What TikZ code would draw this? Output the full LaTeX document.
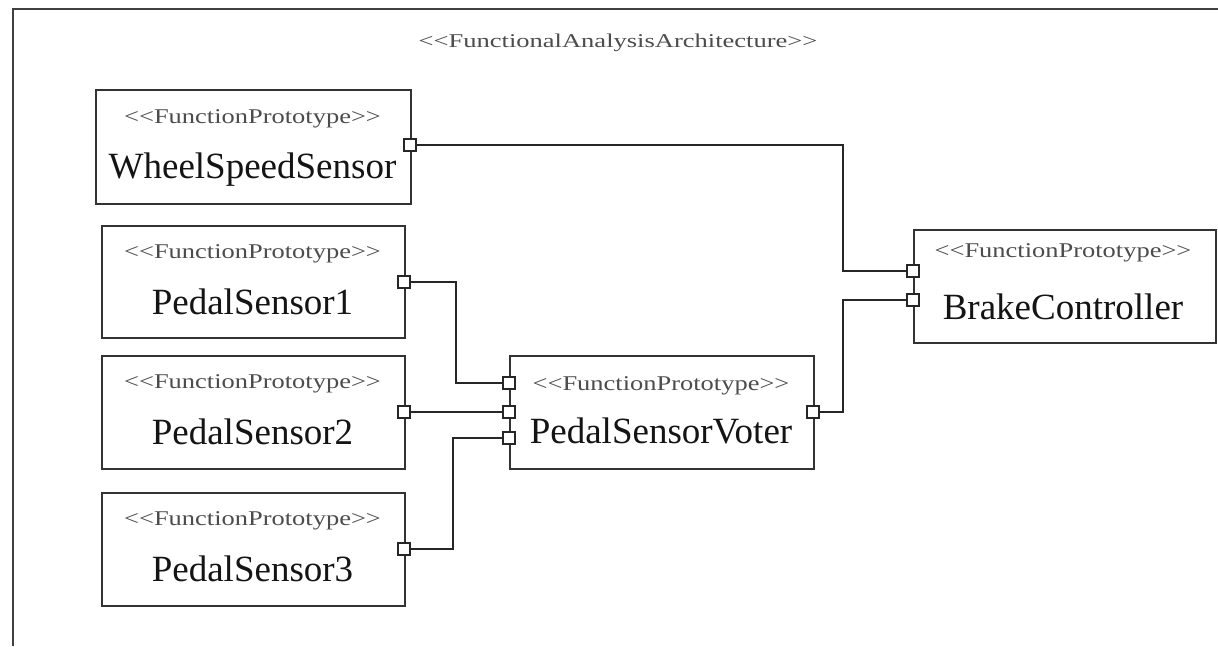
\documentclass[tikz,border=0pt]{standalone}
\usepackage{fontspec}
\usepackage{graphicx}
\setmainfont{Liberation Serif}[Ligatures=TeXOff]
\begin{document}
\begin{tikzpicture}[x=1pt,y=-1pt,
  fbox/.style={draw=black!80, line width=2pt, fill=white, anchor=north west, inner sep=0},
  port/.style={draw=black!85, line width=1.6pt, fill=white, minimum size=12pt, inner sep=0},
  wire/.style={draw=black!85, line width=2pt},
  stereo/.style={text=black!70, font=\fontsize{21}{21}\selectfont, inner sep=0, anchor=base},
  title/.style={text=black!70, font=\fontsize{19.5}{20}\selectfont, inner sep=0, anchor=base},
  fname/.style={text=black!92, font=\fontsize{37}{37}\selectfont, inner sep=0, anchor=base}]
\useasboundingbox (0,0) rectangle (1218,646);
\fill[white] (0,0) rectangle (1218,646);
% frame
\draw[draw=black!75, line width=2.5pt] (13,646) -- (13,9) -- (1218,9);
\node[title] (ttl) at (618,47) {\scalebox{1.36}[1]{<<FunctionalAnalysisArchitecture>>}};
% boxes
\node[fbox, minimum width=315pt, minimum height=114pt] (wss) at (95,89) {};
\node[fbox, minimum width=303pt, minimum height=112pt] (ps1) at (101,225) {};
\node[fbox, minimum width=303pt, minimum height=113pt] (ps2) at (101,355) {};
\node[fbox, minimum width=303pt, minimum height=113pt] (ps3) at (101,492) {};
\node[fbox, minimum width=304pt, minimum height=113pt] (psv) at (509,355) {};
\node[fbox, minimum width=302pt, minimum height=113pt] (bc) at (913,229) {};
% texts
\node[stereo] (wssS) at (252.5,123) {\scalebox{1.26}[1]{<<FunctionPrototype>>}};
\node[fname] (wssN) at (252.5,178) {WheelSpeedSensor};
\node[stereo] (ps1S) at (252.5,258) {\scalebox{1.26}[1]{<<FunctionPrototype>>}};
\node[fname] (ps1N) at (252.5,314) {PedalSensor1};
\node[stereo] (ps2S) at (252.5,388) {\scalebox{1.26}[1]{<<FunctionPrototype>>}};
\node[fname] (ps2N) at (252.5,444) {PedalSensor2};
\node[stereo] (ps3S) at (252.5,525) {\scalebox{1.26}[1]{<<FunctionPrototype>>}};
\node[fname] (ps3N) at (252.5,581) {PedalSensor3};
\node[stereo] (psvS) at (661,390) {\scalebox{1.26}[1]{<<FunctionPrototype>>}};
\node[fname] (psvN) at (661,443) {PedalSensorVoter};
\node[stereo] (bcS) at (1063,257) {\scalebox{1.26}[1]{<<FunctionPrototype>>}};
\node[fname] (bcN) at (1063,319) {BrakeController};
% wire bend columns
\coordinate (c843) at (843,0);
\coordinate (c456) at (456,0);
\coordinate (c453) at (453,0);
% ports
\node[port] (wssP) at (410,145) {};
\node[port] (ps1P) at (404,282) {};
\node[port] (ps2P) at (404,412) {};
\node[port] (ps3P) at (404,549) {};
\node[port] (psvI1) at (509,383) {};
\node[port] (psvI2) at (509,412) {};
\node[port] (psvI3) at (509,438) {};
\node[port] (psvO) at (813,412) {};
\node[port] (bcI1) at (913,271) {};
\node[port] (bcI2) at (913,300) {};
% wires
\draw[wire] (wssP) -- (wssP -| c843) |- (bcI1);
\draw[wire] (ps1P) -- (ps1P -| c456) |- (psvI1);
\draw[wire] (ps2P) -- (psvI2);
\draw[wire] (ps3P) -- (ps3P -| c453) |- (psvI3);
\draw[wire] (psvO) -- (psvO -| c843) |- (bcI2);
\end{tikzpicture}
\end{document}
